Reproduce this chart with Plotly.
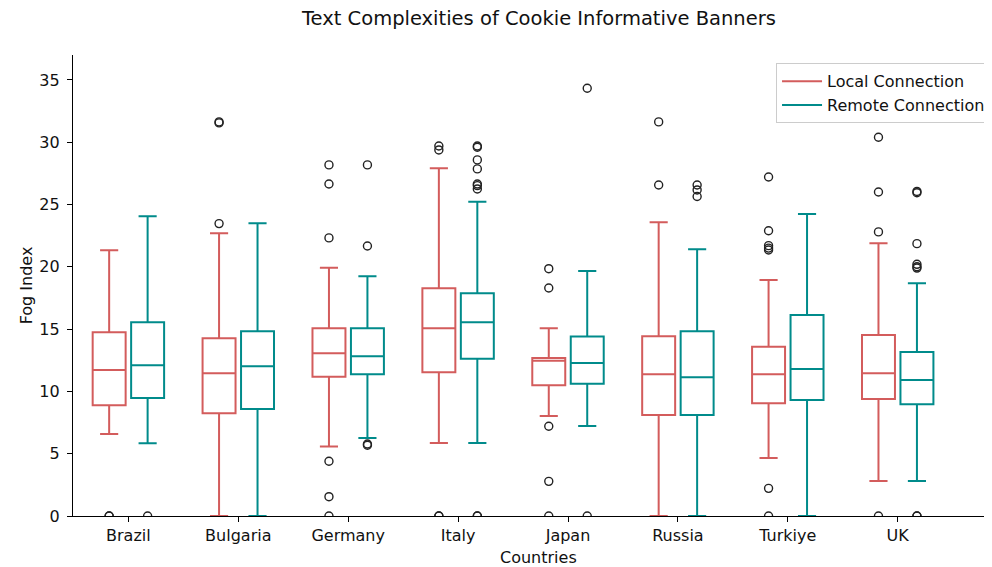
import plotly.graph_objects as go

countries = ["Brazil", "Bulgaria", "Germany", "Italy", "Japan", "Russia", "Turkiye", "UK"]

# Local Connection box statistics
local_lower = [6.58, 0.0, 5.57, 5.86, 8.03, 0.0, 4.66, 2.81]
local_q1 = [8.88, 8.24, 11.18, 11.53, 10.49, 8.11, 9.05, 9.39]
local_median = [11.72, 11.45, 13.06, 15.07, 12.47, 11.37, 11.37, 11.45]
local_q3 = [14.74, 14.26, 15.07, 18.28, 12.68, 14.42, 13.59, 14.53]
local_upper = [21.33, 22.69, 19.93, 27.91, 15.07, 23.57, 18.95, 21.89]
local_outliers = [
    [0.0, 0.0],
    [31.63, 31.55, 23.47],
    [28.18, 26.65, 22.32, 4.39, 1.55, 0.0],
    [29.7, 29.38, 0.0, 0.0],
    [19.85, 18.3, 7.2, 2.78, 0.0],
    [31.63, 26.57],
    [27.21, 22.89, 21.7, 21.5, 21.35, 2.22, 0.0],
    [30.4, 26.0, 22.8, 0.0],
]

# Remote Connection box statistics
remote_lower = [5.83, 0.0, 6.26, 5.86, 7.22, 0.0, 0.0, 2.81]
remote_q1 = [9.47, 8.59, 11.37, 12.63, 10.62, 8.11, 9.31, 8.97]
remote_median = [12.10, 12.02, 12.82, 15.55, 12.28, 11.13, 11.80, 10.92]
remote_q3 = [15.55, 14.82, 15.07, 17.88, 14.40, 14.82, 16.14, 13.17]
remote_upper = [24.06, 23.5, 19.24, 25.23, 19.67, 21.41, 24.24, 18.68]
remote_outliers = [
    [0.0],
    [],
    [28.18, 21.67, 5.78, 5.68],
    [29.7, 29.6, 28.58, 27.86, 26.65, 26.52, 26.25, 0.0, 0.0],
    [34.33, 0.0],
    [26.57, 26.17, 25.64],
    [],
    [26.05, 25.95, 21.86, 20.2, 20.01, 19.9, 0.0, 0.0],
]

LOCAL_COLOR = "#D35C5C"
REMOTE_COLOR = "#008B8B"
OFFSET = 0.175
BOX_W = 0.30
FONT = "DejaVu Sans"

# page body has an 8px margin, so the figure is sized to fill the rest of the window
W, H = 984, 559

fig = go.Figure()

idx = list(range(len(countries)))

def add_group(sign, lower, q1, med, q3, upper, outliers, color):
    xs = [i + sign * OFFSET for i in idx]
    fig.add_trace(go.Box(
        x=xs, lowerfence=lower, q1=q1, median=med, q3=q3, upperfence=upper,
        width=BOX_W, whiskerwidth=0.55, fillcolor="rgba(255,255,255,0)",
        line=dict(color=color, width=2), boxpoints=False, showlegend=False,
        hoverinfo="skip",
    ))
    ox, oy = [], []
    for i, vals in zip(xs, outliers):
        for v in vals:
            ox.append(i)
            oy.append(v)
    fig.add_trace(go.Scatter(
        x=ox, y=oy, mode="markers", showlegend=False,
        marker=dict(symbol="circle-open", size=8, color="#222222", line=dict(width=1.4)),
    ))

add_group(-1, local_lower, local_q1, local_median, local_q3, local_upper, local_outliers, LOCAL_COLOR)
add_group(1, remote_lower, remote_q1, remote_median, remote_q3, remote_upper, remote_outliers, REMOTE_COLOR)

# legend entries as lines
fig.add_trace(go.Scatter(x=[None], y=[None], mode="lines", name="Local Connection",
                         line=dict(color=LOCAL_COLOR, width=2)))
fig.add_trace(go.Scatter(x=[None], y=[None], mode="lines", name="Remote Connection",
                         line=dict(color=REMOTE_COLOR, width=2)))

fig.update_layout(
    width=W, height=H,
    margin=dict(l=65, r=0, t=47, b=51),
    paper_bgcolor="white", plot_bgcolor="white",
    font=dict(family=FONT, size=16, color="#111111"),
    title=dict(text="Text Complexities of Cookie Informative Banners",
               x=0.507, xref="paper", xanchor="center",
               y=1 - 10 / H, yref="container", yanchor="middle",
               font=dict(size=19.5, family=FONT, color="#111111")),
    showlegend=True,
    legend=dict(x=0.765, xanchor="left", y=0.982, yanchor="top",
                bgcolor="rgba(255,255,255,0.9)", bordercolor="#cccccc", borderwidth=1,
                font=dict(size=16, family=FONT), tracegroupgap=0, itemwidth=40),
    boxmode="overlay",
)

fig.update_xaxes(
    range=[-0.504, 7.858], tickmode="array", tickvals=idx, ticktext=countries,
    showline=True, linecolor="black", linewidth=1.2, mirror=False,
    ticks="outside", ticklen=5, tickcolor="black", showgrid=False, zeroline=False,
    tickfont=dict(size=16),
)
fig.update_yaxes(
    range=[0, 37], tickmode="array", tickvals=[0, 5, 10, 15, 20, 25, 30, 35],
    showline=True, linecolor="black", linewidth=1.2, mirror=False,
    ticks="outside", ticklen=5, tickcolor="black", showgrid=False, zeroline=False,
    tickfont=dict(size=16), ticklabelstandoff=4,
    title=dict(text="Fog Index", font=dict(size=16), standoff=2),
)

fig.add_annotation(text="Countries", xref="paper", yref="paper", x=0.507, y=0,
                   yshift=-41, xanchor="center", yanchor="middle", showarrow=False,
                   font=dict(size=16, family=FONT))

fig.write_html("out.html")
